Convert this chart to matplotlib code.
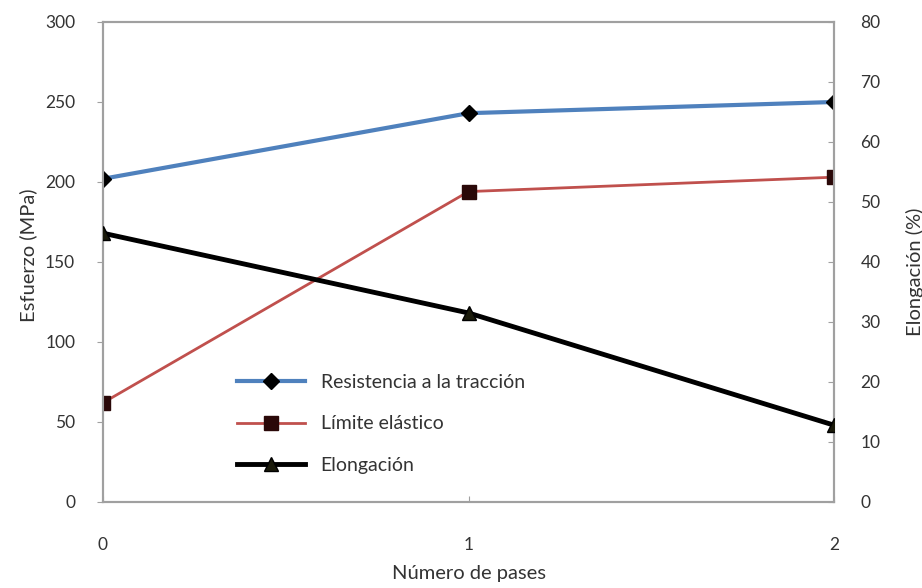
import matplotlib
matplotlib.use("Agg")
import matplotlib.pyplot as plt

pases = [0, 1, 2]
resistencia = [202, 243, 250]
limite = [62, 194, 203]
elongacion = [44.8, 31.5, 12.8]

left_ticks = [0, 50, 100, 150, 200, 250, 300]
right_ticks = [0, 10, 20, 30, 40, 50, 60, 70, 80]

plt.rcParams['font.family'] = ['Lato', 'DejaVu Sans']
FS_T = 12.5
FS_L = 14
FS_A = 14.5
TXT = '#333333'
SP = '#a0a0a0'

fig = plt.figure(figsize=(9.22, 5.88), dpi=100)
ax = fig.add_axes([0.1117, 0.1463, 0.9046 - 0.1117, 0.9626 - 0.1463])
ax2 = ax.twinx()

l1, = ax.plot(pases, resistencia, color='#4f81bd', lw=3, marker='D', ms=8,
              mfc='black', mec='black', label='Resistencia a la tracción', zorder=3)
l2, = ax.plot(pases, limite, color='#c0504d', lw=2, marker='s', ms=10,
              mfc='#2a0808', mec='#2a0808', label='Límite elástico', zorder=3)
l3, = ax2.plot(pases, elongacion, color='black', lw=3.5, marker='^', ms=10,
               mfc='#1a1a0a', mec='black', label='Elongación', zorder=3)

ax.set_xlim(0, 2)
ax.set_ylim(0, 300)
ax2.set_ylim(0, 80)
ax.set_xticks(pases)
ax.set_yticks(left_ticks)
ax2.set_yticks(right_ticks)

for a in (ax, ax2):
    for s in a.spines.values():
        s.set_color(SP)
        s.set_linewidth(1.5)

ax.tick_params(axis='y', direction='out', length=4, color=SP, pad=16, labelsize=FS_T, labelcolor=TXT)
ax.tick_params(axis='x', direction='in', length=4, color=SP, pad=25, labelsize=FS_T, labelcolor=TXT)
ax2.tick_params(axis='y', direction='in', length=4, color=SP, pad=19, labelsize=FS_T, labelcolor=TXT)

ax.set_ylabel('Esfuerzo (MPa)', fontsize=FS_A, color=TXT, labelpad=4)
ax2.set_ylabel('Elongación (%)', fontsize=FS_A, color=TXT, labelpad=6, rotation=90)
ax.set_xlabel('Número de pases', fontsize=FS_A, color=TXT, labelpad=9)
ax2.yaxis.set_label_coords(1.098, 0.48)
ax.yaxis.set_label_coords(-0.09, 0.515)

leg = ax.legend(handles=[l1, l2, l3], loc='upper left',
                bbox_to_anchor=(237 / 922, (588 - 374) / 588),
                bbox_transform=fig.transFigure, frameon=False, fontsize=FS_L,
                borderpad=0, borderaxespad=0,
                labelspacing=1.25, handlelength=3.5, handletextpad=0.8, labelcolor=TXT)

fig.savefig('out.png', dpi=100)
